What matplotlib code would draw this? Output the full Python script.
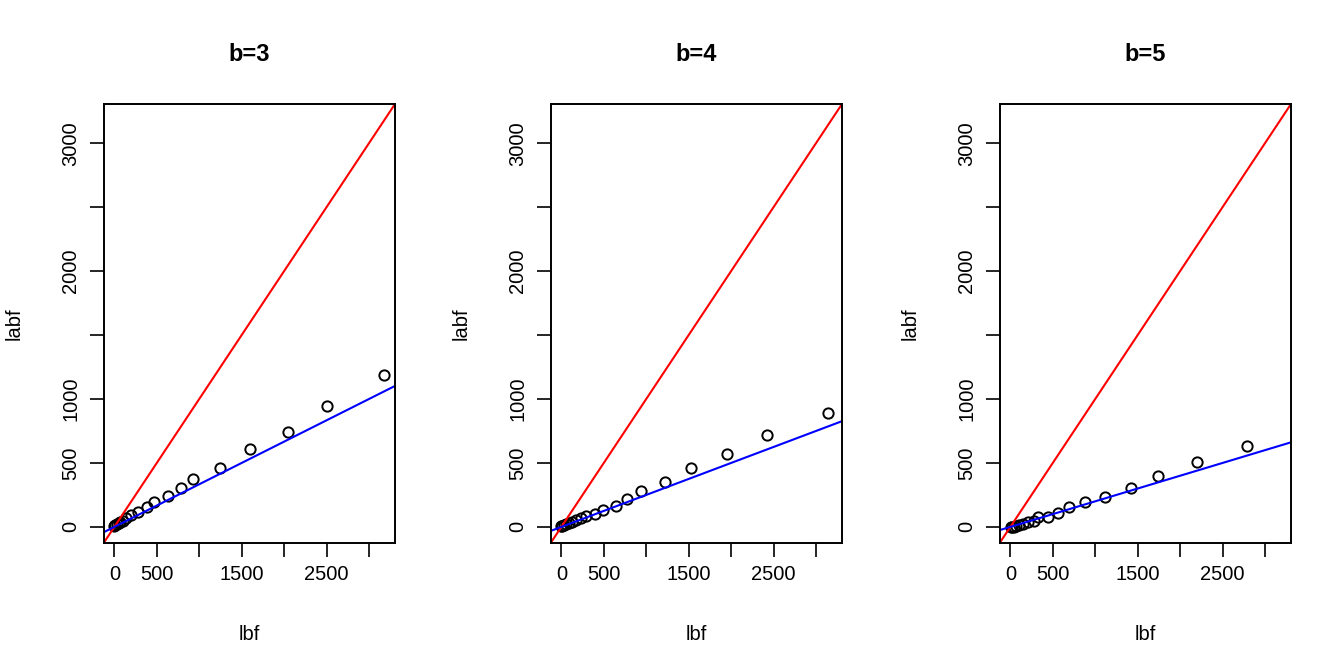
import numpy as np
import matplotlib
matplotlib.use('AGG')
import matplotlib.pyplot as plt

plt.rcParams['font.family'] = ['Liberation Sans', 'DejaVu Sans']

# values, one pair of arrays per panel
b_values = [3, 4, 5]

lbf_b3 = [3174, 2500, 2047, 1604, 1244, 927, 786, 634, 470, 384, 274, 196, 137, 98, 70, 50, 28, 12, 0]
labf_b3 = [1189, 948, 744, 611, 464, 378, 301, 241, 192, 153, 117, 91, 70, 49, 39, 30, 23, 15, 10]

lbf_b4 = [3137, 2422, 1950, 1531, 1223, 941, 769, 645, 492, 402, 285, 226, 168, 129, 89, 50, 31, 12, 0]
labf_b4 = [893, 715, 570, 461, 350, 277, 222, 166, 134, 103, 85, 67, 51, 39, 28, 20, 15, 8, 5]

lbf_b5 = [2786, 2200, 1742, 1417, 1111, 880, 692, 556, 446, 322, 275, 204, 146, 106, 67, 40, 20, 5]
labf_b5 = [629, 505, 401, 303, 236, 192, 153, 111, 78, 80, 49, 39, 23, 18, 10, 2, 0, -3]

lbf = [lbf_b3, lbf_b4, lbf_b5]
labf = [labf_b3, labf_b4, labf_b5]

ticks = [0, 500, 1000, 1500, 2000, 2500, 3000]
xlabels = ['0', '500', '', '1500', '', '2500', '']
ylabels = ['0', '500', '1000', '', '2000', '', '3000']

# common data range, widened by 4% like R does
lo, hi = 5, 3180
pad = 0.04 * (hi - lo)
lim = (lo - pad, hi + pad)

fig = plt.figure(figsize=(13.44, 6.72), dpi=100)
lefts = [104, 551, 1000]
for i in range(3):
    ax = fig.add_axes([lefts[i] / 1344, 1 - 542.5 / 672, 291 / 1344, 438.5 / 672])
    ax.plot(lbf[i], labf[i], 'o', mfc='none', mec='black', ms=7.4, mew=1.4)
    ax.axline((0, 0), slope=1, color='red', lw=1.5)
    ax.axline((0, 0), slope=1 / b_values[i], color='blue', lw=1.5)
    ax.set_xlim(lim)
    ax.set_ylim(lim)
    ax.set_xticks(ticks)
    ax.set_xticklabels(xlabels)
    ax.set_yticks(ticks)
    ax.set_yticklabels(ylabels, rotation=90, va='center')
    ax.tick_params(length=10, width=1.2, labelsize=14.5, pad=6)
    ax.tick_params(axis='y', pad=7)
    for s in ax.spines.values():
        s.set_linewidth(1.4)
    ax.set_title(f"b={b_values[i]}", fontsize=17, fontweight='bold', pad=31)
    ax.set_xlabel('lbf', fontsize=14.5, labelpad=30)
    ax.set_ylabel('labf', fontsize=14.5, labelpad=27)

fig.savefig('out.png', dpi=100)
